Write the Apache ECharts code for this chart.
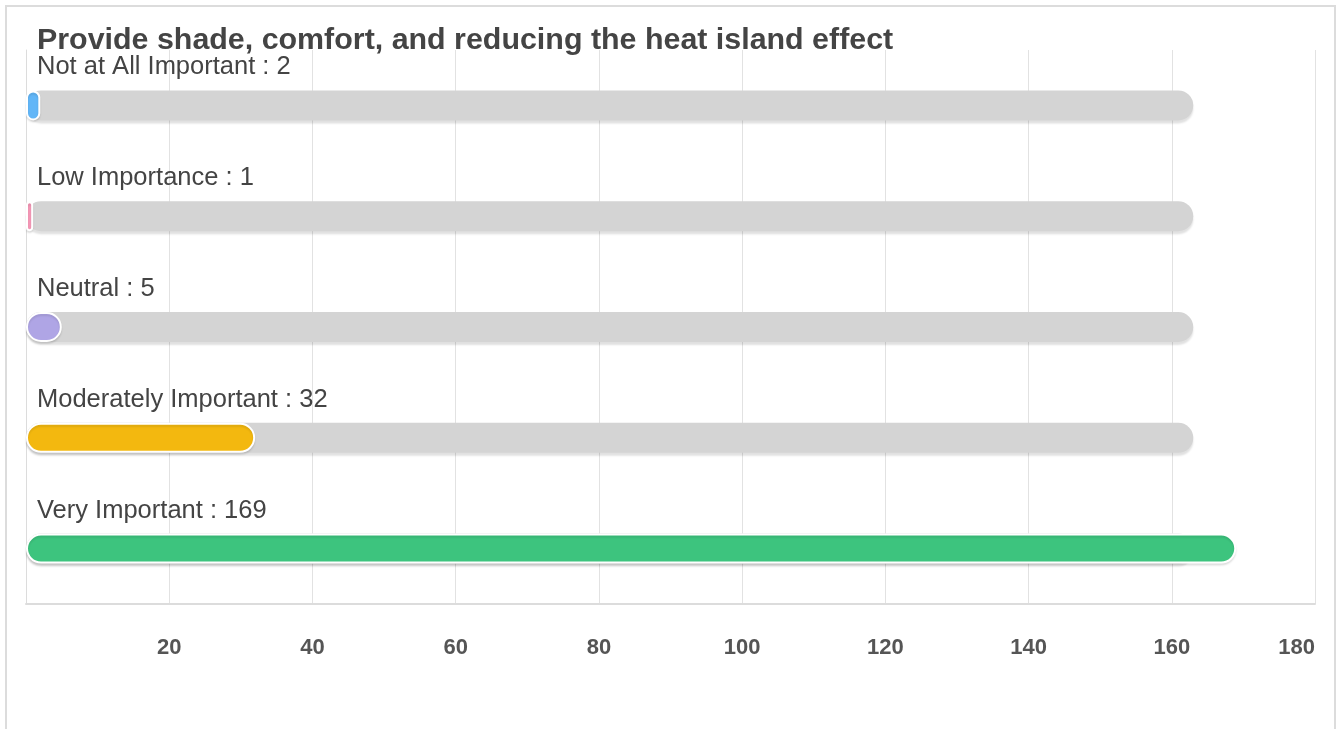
<!DOCTYPE html>
<html>
<head>
<meta charset="utf-8">
<script src="https://cdn.jsdelivr.net/npm/echarts@6/dist/echarts.min.js"></script>
<style>
  html, body { margin: 0; padding: 0; background: #fff; }
  #frame { position: absolute; left: 5px; top: 5px; width: 1327px; height: 740px; border: 2px solid #dcdcdc; }
  #chart { position: absolute; left: 0; top: 0; width: 1340px; height: 729px; }
</style>
</head>
<body>
<div id="frame"></div>
<div id="chart"></div>
<script>
var categories = ['Not at All Important', 'Low Importance', 'Neutral', 'Moderately Important', 'Very Important'];
var counts = [2, 1, 5, 32, 169];
var trackValues = [163, 163, 163, 163, 163];
var barColors = ['#62b6f7', '#f598b7', '#afa5e5', '#f3b80f', '#3dc47e'];
var xTicks = [0, 20, 40, 60, 80, 100, 120, 140, 160, 180];

var font = 'Liberation Sans';
var mychart = echarts.init(document.getElementById('chart'));
var option = {
    animation: false,
    title: {
        text: 'Provide shade, comfort, and reducing the heat island effect',
        left: 37,
        top: 26,
        padding: 0,
        textStyle: {
            color: '#444',
            fontFamily: font,
            fontSize: 30.4,
            fontWeight: 'bold'
        }
    },
    grid: {
        left: 26,
        right: 25,
        top: 50,
        bottom: 125
    },
    xAxis: {
        type: 'value',
        min: xTicks[0],
        max: xTicks[xTicks.length - 1],
        interval: 20,
        axisLine: { show: true, lineStyle: { color: '#dcdcdc', width: 2 } },
        axisTick: { show: false },
        axisLabel: {
            showMinLabel: false,
            alignMaxLabel: 'right',
            color: '#555',
            fontFamily: font,
            fontSize: 22,
            fontWeight: 'bold',
            margin: 33
        },
        splitLine: { show: true, lineStyle: { color: '#e2e2e2' } }
    },
    yAxis: {
        type: 'category',
        inverse: true,
        data: categories,
        axisLine: { show: true, lineStyle: { color: '#dcdcdc' } },
        axisTick: { show: false },
        axisLabel: { show: false }
    },
    series: [
        {
            name: 'track',
            type: 'bar',
            barWidth: 30,
            silent: true,
            data: trackValues,
            itemStyle: {
                color: '#d4d4d4',
                borderRadius: 15,
                shadowColor: 'rgba(0,0,0,0.12)',
                shadowOffsetY: 3,
                shadowBlur: 2
            }
        },
        {
            name: 'count',
            type: 'bar',
            barWidth: 30,
            barGap: '-100%',
            data: counts.map(function (v, i) {
                return { value: v, itemStyle: { color: barColors[i] } };
            }),
            itemStyle: {
                borderRadius: 15,
                borderColor: '#fff',
                borderWidth: 2,
                shadowColor: 'rgba(0,0,0,0.1)',
                shadowOffsetY: 2,
                shadowBlur: 2
            },
            label: {
                show: true,
                position: [11, -36],
                formatter: '{b} : {c}',
                color: '#444',
                fontFamily: font,
                fontSize: 25.5
            }
        }
    ]
};
mychart.setOption(option);
</script>
</body>
</html>
